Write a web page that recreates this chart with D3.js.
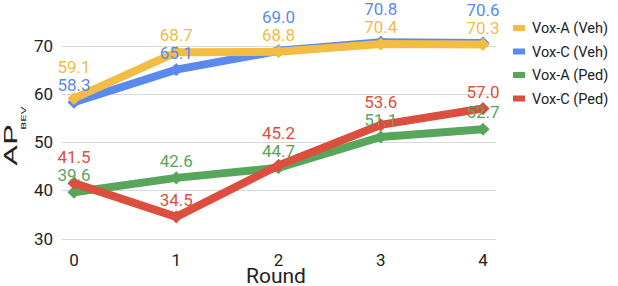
<!DOCTYPE html>
<meta charset="utf-8">
<style>
body { margin: 0; background: #fff; }
svg { font-family: Roboto, sans-serif; }
.grid line { stroke: #d9d9d9; stroke-width: 1px; }
.tick text { fill: #222; }
</style>
<svg width="618" height="286"></svg>
<script src="https://d3js.org/d3.v7.min.js"></script>
<script>

var rounds = [0, 1, 2, 3, 4];
var yTicks = [30, 40, 50, 60, 70];

var seriesNames = ["Vox-A (Veh)", "Vox-C (Veh)", "Vox-A (Ped)", "Vox-C (Ped)"];
var seriesColors = ["#f2bd42", "#5a8aee", "#58a65c", "#dc4f3e"];

var voxAVeh = [59.1, 68.7, 68.8, 70.4, 70.3];
var voxCVeh = [58.3, 65.1, 69.0, 70.8, 70.6];
var voxAPed = [39.6, 42.6, 44.7, 51.1, 52.7];
var voxCPed = [41.5, 34.5, 45.2, 53.6, 57.0];

var seriesValues = [voxAVeh, voxCVeh, voxAPed, voxCPed];

var svg = d3.select("svg");

var x = d3.scaleLinear().domain([0, 4]).range([74, 483]);
var y = d3.scaleLinear().domain([30, 70]).range([238.5, 46]);
var gridLeft = 62, gridRight = 496;

// gridlines + y labels
var grid = svg.append("g").attr("class", "grid");
grid.selectAll("line")
  .data(yTicks)
  .enter().append("line")
    .attr("x1", gridLeft).attr("x2", gridRight)
    .attr("y1", function(d) { return Math.round(y(d)) + 0.5; })
    .attr("y2", function(d) { return Math.round(y(d)) + 0.5; });

svg.append("g").attr("class", "tick")
  .selectAll("text")
  .data(yTicks)
  .enter().append("text")
    .attr("x", 53)
    .attr("y", function(d) { return y(d); })
    .attr("dy", "0.36em")
    .attr("text-anchor", "end")
    .attr("font-size", 17)
    .text(function(d) { return d; });

svg.append("g").attr("class", "tick")
  .selectAll("text")
  .data(rounds)
  .enter().append("text")
    .attr("x", function(d) { return x(d); })
    .attr("y", 266)
    .attr("text-anchor", "middle")
    .attr("font-size", 17)
    .text(function(d) { return d; });

svg.append("text")
  .attr("x", 276).attr("y", 283)
  .attr("text-anchor", "middle")
  .attr("font-size", 21)
  .attr("fill", "#222")
  .text("Round");

// stretched y title, as in the original
var yl = svg.append("text")
  .attr("transform", "translate(17,166) rotate(-90) scale(1.7,1)")
  .attr("fill", "#222");
yl.append("tspan").attr("font-size", 19).text("AP");
yl.append("tspan").attr("font-size", 7.5).attr("dx", -3).attr("dy", 9).text("BEV");

// lines
var series = seriesNames.map(function(name, i) {
  return {
    name: name,
    color: seriesColors[i],
    points: rounds.map(function(r, j) { return { r: r, v: seriesValues[i][j], color: seriesColors[i] }; })
  };
});

var line = d3.line()
  .x(function(d) { return x(d.r); })
  .y(function(d) { return y(d.v); });

var diamond = d3.symbol().type(d3.symbolDiamond2).size(110);

var drawOrder = [1, 0, 2, 3];
drawOrder.forEach(function(i) {
  var s = series[i];
  svg.append("path")
    .datum(s.points)
    .attr("fill", "none")
    .attr("stroke", s.color)
    .attr("stroke-width", 8)
    .attr("stroke-linejoin", "miter")
    .attr("d", line);
  svg.append("g").selectAll("path")
    .data(s.points)
    .enter().append("path")
      .attr("transform", function(d) { return "translate(" + x(d.r) + "," + y(d.v) + ")"; })
      .attr("d", diamond)
      .attr("fill", s.color);
});

// data labels, stacked per round to avoid overlap
var labels = [];
rounds.forEach(function(r, j) {
  var pts = series.map(function(s) { return s.points[j]; })
    .sort(function(a, b) { return y(b.v) - y(a.v); });
  var prev = null;
  pts.forEach(function(p) {
    var ly = y(p.v) - 17;
    if (prev !== null && prev - ly < 18) ly = prev - 18;
    prev = ly;
    labels.push({ x: x(r), y: ly, text: p.v.toFixed(1), color: p.color });
  });
});

svg.append("g").selectAll("text")
  .data(labels)
  .enter().append("text")
    .attr("x", function(d) { return d.x; })
    .attr("y", function(d) { return d.y; })
    .attr("dy", "0.36em")
    .attr("text-anchor", "middle")
    .attr("font-size", 17)
    .attr("fill", function(d) { return d.color; })
    .text(function(d) { return d.text; });

// legend
var legend = svg.append("g").selectAll("g")
  .data(series)
  .enter().append("g")
    .attr("transform", function(d, i) { return "translate(513," + (28 + i * 23.5) + ")"; });
legend.append("rect")
  .attr("x", 0).attr("y", -3).attr("width", 12).attr("height", 6)
  .attr("fill", function(d) { return d.color; });
legend.append("text")
  .attr("x", 19).attr("dy", "0.36em")
  .attr("font-size", 14.5)
  .attr("fill", "#222")
  .text(function(d) { return d.name; });

</script>
